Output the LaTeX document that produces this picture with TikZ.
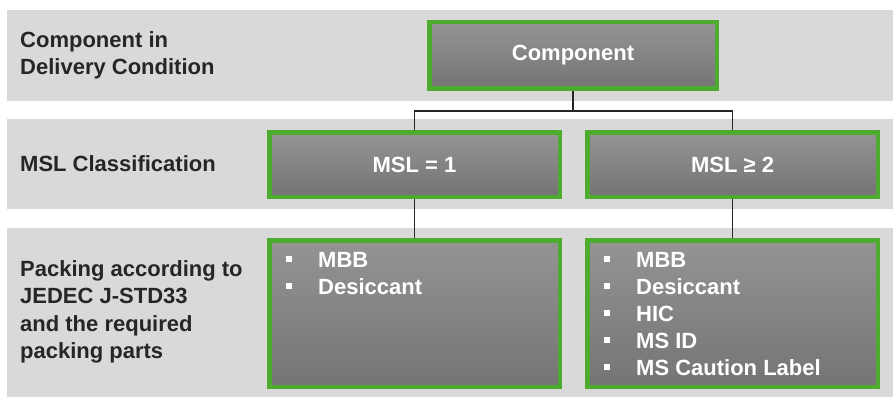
\documentclass[tikz,border=0pt]{standalone}
\usepackage{fontspec}
\setmainfont{Liberation Sans}
\usepackage{tikz}
\usepackage{xcolor}
\usetikzlibrary{positioning}

\definecolor{bandgray}{RGB}{217,217,217}
\definecolor{boxgreen}{RGB}{77,172,45}
\definecolor{boxtop}{RGB}{148,148,148}
\definecolor{boxbottom}{RGB}{116,116,116}
\definecolor{labeltext}{RGB}{38,38,38}
\newcommand{\sqbul}{\makebox[32pt][l]{\rule[0.22em]{0.28em}{0.28em}}}

\begin{document}
\begin{tikzpicture}[x=1pt,y=1pt,
	band/.style={fill=bandgray},
	greenbox/.style={draw=boxgreen,line width=4.5pt,outer sep=2.25pt,top color=boxtop,bottom color=boxbottom,text=white,inner sep=0pt,font=\bfseries\fontsize{22}{27}\selectfont},
	rowlabel/.style={anchor=west,align=left,text=labeltext,inner sep=0pt,font=\bfseries\fontsize{22}{27.5}\selectfont},
	itemlist/.style={anchor=north west,align=left,text=white,inner sep=0pt,font=\bfseries\fontsize{22}{27}\selectfont},
	link/.style={draw=labeltext,line width=1.5pt}]
\useasboundingbox (0,0) rectangle (893,397);
% grey rows
\fill[band] (7,296) rectangle (893,387);
\fill[band] (7,188) rectangle (893,278);
\fill[band] (7,0) rectangle (893,169);
% row labels
\node[rowlabel] (lbldelivery) at (20,341.5) {Component in\\Delivery Condition};
\node[rowlabel] (lblmsl) at (20,233) {MSL Classification};
\node[rowlabel] (lblpacking) at (20,85) {Packing according to\\JEDEC J-STD33\\and the required\\packing parts};
% boxes
\node[greenbox,minimum width=287.5pt,minimum height=66.5pt] (comp) at (573,341.5) {Component};
\node[greenbox,minimum width=290.5pt,minimum height=64.5pt] (mslone) at (414.5,232.5) {MSL = 1};
\node[greenbox,minimum width=290.5pt,minimum height=64.5pt] (msltwo) at (732.5,232.5) {MSL ≥ 2};
\node[greenbox,minimum width=290.5pt,minimum height=146.5pt] (packone) at (414.5,83.5) {};
\node[greenbox,minimum width=290.5pt,minimum height=146.5pt] (packtwo) at (732.5,83.5) {};
\node[itemlist] (listone) at (286,145) {\sqbul MBB\\\sqbul Desiccant};
\node[itemlist] (listtwo) at (604,145) {\sqbul MBB\\\sqbul Desiccant\\\sqbul HIC\\\sqbul MS ID\\\sqbul MS Caution Label};
% connectors
\draw[link] (comp.south) -- ++(0,-20) coordinate (split);
\draw[link] (split) -| (mslone.north);
\draw[link] (split) -| (msltwo.north);
\draw[link] (mslone.south) -- (packone.north);
\draw[link] (msltwo.south) -- (packtwo.north);
\end{tikzpicture}
\end{document}
